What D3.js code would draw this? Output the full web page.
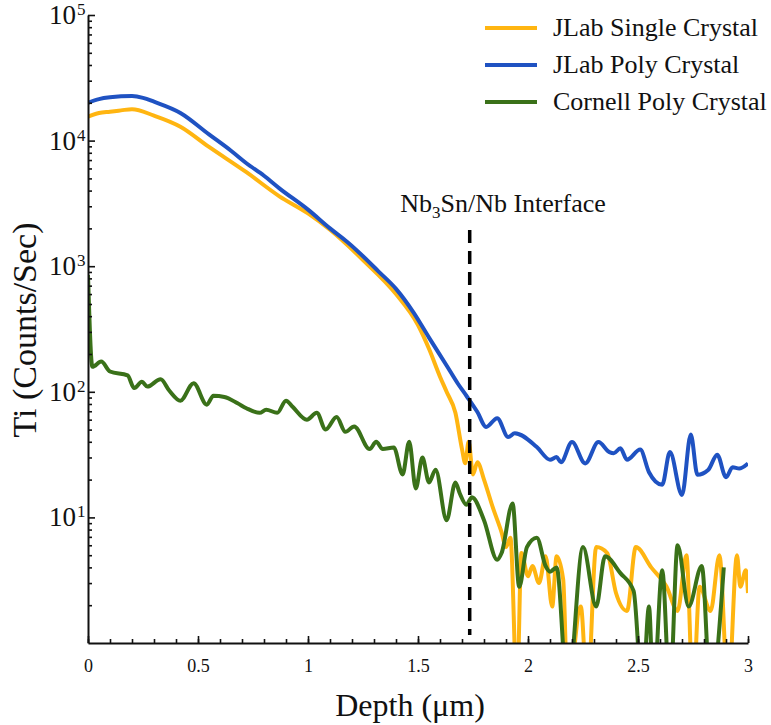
<!DOCTYPE html>
<html>
<head>
<meta charset="utf-8">
<script src="https://cdn.jsdelivr.net/npm/d3@7"></script>
<style>
body { margin: 0; background: #fff; }
svg text { font-family: "Liberation Serif", "Times New Roman", serif; fill: #111; }
</style>
</head>
<body>
<script>
// depth in um, Ti counts per second
let singleDepth = [0, 0.05, 0.1, 0.15, 0.2, 0.3, 0.42, 0.55, 0.72, 0.87, 1.0, 1.1, 1.25, 1.4, 1.5, 1.55, 1.6, 1.63, 1.67, 1.7, 1.715, 1.73, 1.75, 1.77, 1.8, 1.84, 1.88, 1.9, 1.92, 1.95, 1.97, 2.0, 2.02, 2.05, 2.08, 2.11, 2.13, 2.16, 2.18, 2.24, 2.27, 2.31, 2.36, 2.4, 2.45, 2.49, 2.56, 2.63, 2.68, 2.72, 2.75, 2.78, 2.83, 2.87, 2.91, 2.95, 2.965, 2.99, 3.0];
let singleCounts = [15500, 16600, 17000, 17400, 17800, 15800, 12900, 8900, 5600, 3600, 2630, 1950, 1120, 600, 340, 220, 132, 100, 68, 35, 27, 40, 22, 27.5, 20, 12, 7.6, 5.8, 6.9, 0.4, 5.2, 3.4, 4.1, 3.0, 4.9, 1.95, 4.9, 3.2, 0.4, 1.95, 0.4, 5.8, 5.2, 2.5, 1.8, 5.8, 4.0, 2.8, 1.8, 5.0, 0.4, 2.8, 1.8, 5.0, 0.4, 5.0, 2.8, 3.8, 2.5];

let polyDepth = [0, 0.05, 0.1, 0.2, 0.25, 0.3, 0.42, 0.55, 0.65, 0.72, 0.8, 0.87, 1.0, 1.1, 1.18, 1.25, 1.32, 1.4, 1.48, 1.55, 1.63, 1.68, 1.72, 1.77, 1.81, 1.86, 1.91, 1.94, 2.04, 2.1, 2.13, 2.15, 2.2, 2.26, 2.32, 2.37, 2.39, 2.42, 2.45, 2.51, 2.55, 2.61, 2.645, 2.7, 2.74, 2.77, 2.82, 2.86, 2.9, 2.93, 2.96, 3.0];
let polyCounts = [20000, 21400, 22100, 22600, 21900, 20400, 16600, 11200, 8300, 6600, 5250, 4170, 2820, 2000, 1550, 1200, 910, 660, 427, 270, 162, 117, 93, 69, 52.5, 61.7, 43.6, 46.8, 36.3, 28.8, 30.2, 27.5, 39.8, 26.9, 39.8, 33.1, 32.4, 35.5, 28.8, 34.7, 22.9, 18.2, 33.1, 15.1, 45.7, 21.9, 24, 31.6, 20.9, 25.1, 24.5, 26.9];

let cornellDepth = [0, 0.02, 0.06, 0.1, 0.18, 0.21, 0.245, 0.27, 0.33, 0.37, 0.42, 0.48, 0.54, 0.57, 0.62, 0.68, 0.72, 0.78, 0.81, 0.86, 0.9, 0.93, 0.995, 1.04, 1.08, 1.13, 1.17, 1.21, 1.28, 1.31, 1.34, 1.39, 1.43, 1.46, 1.49, 1.52, 1.55, 1.58, 1.63, 1.67, 1.69, 1.72, 1.745, 1.8, 1.86, 1.88, 1.93, 1.96, 1.995, 2.04, 2.08, 2.1, 2.13, 2.18, 2.25, 2.31, 2.35, 2.42, 2.48, 2.52, 2.55, 2.57, 2.61, 2.645, 2.68, 2.73, 2.79, 2.83, 2.89];
let cornellCounts = [850, 158, 174, 145, 135, 107, 120, 110, 126, 102, 85, 117, 79, 93, 91, 81, 74, 68, 72, 68, 85, 76, 60, 68, 50, 63, 48, 53, 35, 40, 35, 36, 22, 40, 17, 30, 19, 24, 9.5, 19, 15.5, 12.6, 14.5, 9.5, 4.6, 5.2, 12.9, 2.8, 5.8, 6.9, 4.1, 3.7, 4.0, 0.4, 5.8, 1.95, 4.9, 3.6, 2.6, 0.4, 1.95, 0.4, 3.8, 0.4, 6.0, 1.95, 4.1, 0.4, 4.0];

let seriesNames = ["JLab Single Crystal", "JLab Poly Crystal", "Cornell Poly Crystal"];
let seriesColors = ["#ffb511", "#1f52c2", "#3a7119"];
let xTicks = [0, 0.5, 1, 1.5, 2, 2.5, 3];
let yDecades = [1, 2, 3, 4, 5];
let interfaceDepth = 1.735;

let series = [
  d3.zip(singleDepth, singleCounts),
  d3.zip(polyDepth, polyCounts),
  d3.zip(cornellDepth, cornellCounts)
];

let W = 771, H = 725;
let mLeft = 88, mRight = 748, mTop = 15, mBottom = 643;

let svg = d3.select("body").append("svg").attr("width", W).attr("height", H)
  .attr("font-family", "Liberation Serif, serif");

let x = d3.scaleLinear().domain([0, 3]).range([mLeft, mRight]);
let y = d3.scaleLog().domain([1, 1e5]).range([mBottom, mTop]);

svg.append("clipPath").attr("id", "plot")
  .append("rect").attr("x", mLeft).attr("y", mTop)
  .attr("width", mRight - mLeft).attr("height", mBottom - mTop);

// curves
let line = d3.line()
  .x(d => x(d[0]))
  .y(d => y(d[1]))
  .curve(d3.curveMonotoneX);

svg.append("g").attr("clip-path", "url(#plot)")
  .selectAll("path").data([0, 1, 2])
  .enter().append("path")
  .attr("d", i => line(series[i]))
  .attr("fill", "none")
  .attr("stroke", i => seriesColors[i])
  .attr("stroke-width", 4)
  .attr("stroke-linejoin", "round");

// interface marker
svg.append("line")
  .attr("x1", x(interfaceDepth)).attr("x2", x(interfaceDepth))
  .attr("y1", 230).attr("y2", mBottom - 8)
  .attr("stroke", "#000").attr("stroke-width", 3.5)
  .attr("stroke-dasharray", "13,8");

let lab = svg.append("text")
  .attr("x", 503).attr("y", 212)
  .attr("text-anchor", "middle").attr("font-size", 26);
lab.append("tspan").text("Nb");
lab.append("tspan").attr("font-size", 17).attr("dy", 6).text("3");
lab.append("tspan").attr("dy", -6).text("Sn/Nb Interface");

// axes
let minorX = d3.range(0, 3.0001, 0.1).map(v => +v.toFixed(1));
svg.append("g").attr("transform", `translate(0,${mBottom})`)
  .call(d3.axisBottom(x).tickValues(minorX).tickSize(-4).tickFormat(""))
  .call(g => g.select(".domain").remove());
let xAxis = svg.append("g").attr("transform", `translate(0,${mBottom})`)
  .call(d3.axisBottom(x).tickValues(xTicks).tickSize(-7).tickSizeOuter(0).tickPadding(16)
    .tickFormat(d => d));
xAxis.selectAll("text").attr("font-size", 18);

let minorY = [];
for (let e = 0; e < 5; e++) for (let k = 2; k <= 9; k++) minorY.push(k * Math.pow(10, e));
svg.append("g").attr("transform", `translate(${mLeft},0)`)
  .call(d3.axisLeft(y).tickValues(minorY).tickSize(-4).tickFormat(""))
  .call(g => g.select(".domain").remove());
svg.append("g").attr("transform", `translate(${mLeft},0)`)
  .call(d3.axisLeft(y).tickValues(yDecades.map(e => Math.pow(10, e))).tickSize(-7).tickSizeOuter(0).tickFormat(""));

svg.selectAll(".domain").attr("stroke", "#111").attr("stroke-width", 2);
svg.selectAll(".tick line").attr("stroke", "#111").attr("stroke-width", 1.6);

let yl = svg.append("g").selectAll("text").data(yDecades).enter().append("text")
  .attr("x", 49).attr("y", e => y(Math.pow(10, e)) + 9)
  .attr("font-size", 27);
yl.append("tspan").text("10");
yl.append("tspan").attr("font-size", 17).attr("dx", 1).attr("dy", -9).text(e => e);

svg.append("text")
  .attr("transform", "translate(36,330) rotate(-90)")
  .attr("text-anchor", "middle").attr("font-size", 34)
  .text("Ti (Counts/Sec)");

svg.append("text")
  .attr("x", 410).attr("y", 716)
  .attr("text-anchor", "middle").attr("font-size", 32)
  .text("Depth (\u03bcm)");

// legend
let leg = svg.append("g").selectAll("g").data(seriesNames).enter().append("g")
  .attr("transform", (d, i) => `translate(485,${28 + i * 37})`);
leg.append("line").attr("x1", 0).attr("x2", 52)
  .attr("stroke", (d, i) => seriesColors[i]).attr("stroke-width", 4);
leg.append("text").attr("x", 68).attr("y", 8).attr("font-size", 26).text(d => d);
</script>
</body>
</html>
